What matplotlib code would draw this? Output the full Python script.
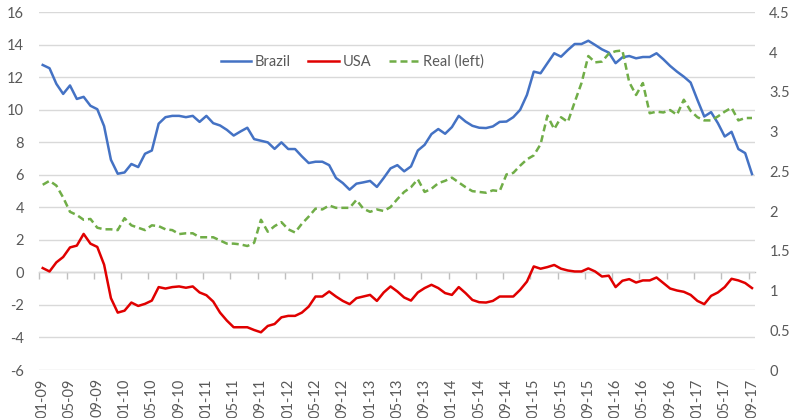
import matplotlib
matplotlib.use("Agg")
import matplotlib.pyplot as plt
import numpy as np

plt.rcParams['font.family'] = ['Lato', 'DejaVu Sans']

# Monthly data, Jan 2009 .. Sep 2017
years = list(range(2009, 2018))
months = [f"{m:02d}-{str(y)[2:]}" for y in years for m in range(1, 13)][:105]

brazil = [12.76, 12.56, 11.6, 10.98, 11.5, 10.67, 10.8, 10.25, 10.04, 9.0, 6.93, 6.07,
          6.15, 6.67, 6.48, 7.3, 7.5, 9.15, 9.55, 9.63, 9.63, 9.55, 9.63, 9.26,
          9.63, 9.18, 9.04, 8.77, 8.42, 8.67, 8.9, 8.2, 8.1, 8.0, 7.6, 8.0,
          7.59, 7.59, 7.14, 6.73, 6.81, 6.81, 6.6, 5.81, 5.5, 5.09, 5.46, 5.54,
          5.63, 5.26, 5.81, 6.4, 6.6, 6.22, 6.52, 7.5, 7.85, 8.51, 8.82, 8.53,
          8.94, 9.63, 9.28, 9.02, 8.9, 8.88, 8.98, 9.26, 9.28, 9.55, 10.0, 10.92,
          12.35, 12.25, 12.87, 13.48, 13.27, 13.68, 14.05, 14.05, 14.25, 13.99, 13.72, 13.52,
          12.87, 13.23, 13.31, 13.17, 13.25, 13.25, 13.48, 13.11, 12.7, 12.35, 12.04, 11.68,
          10.61, 9.59, 9.86, 9.18, 8.36, 8.65, 7.59, 7.34, 6.05]

usa = [0.27, 0.06, 0.62, 0.95, 1.54, 1.65, 2.37, 1.77, 1.57, 0.48, -1.58, -2.47,
       -2.35, -1.85, -2.06, -1.93, -1.73, -0.90, -0.99, -0.90, -0.86, -0.94, -0.86, -1.23,
       -1.40, -1.79, -2.47, -2.96, -3.37, -3.37, -3.37, -3.54, -3.68, -3.29, -3.17, -2.76,
       -2.67, -2.67, -2.47, -2.10, -1.48, -1.48, -1.17, -1.48, -1.75, -1.95, -1.58, -1.48,
       -1.38, -1.75, -1.23, -0.86, -1.17, -1.54, -1.73, -1.23, -0.96, -0.76, -0.96, -1.27,
       -1.38, -0.90, -1.27, -1.69, -1.83, -1.85, -1.75, -1.48, -1.48, -1.48, -1.07, -0.56,
       0.37, 0.23, 0.33, 0.46, 0.23, 0.12, 0.06, 0.06, 0.25, 0.06, -0.25, -0.20,
       -0.90, -0.51, -0.41, -0.62, -0.49, -0.49, -0.31, -0.65, -0.99, -1.11, -1.19, -1.38,
       -1.75, -1.95, -1.44, -1.23, -0.90, -0.39, -0.49, -0.65, -0.96]

real = [2.33, 2.38, 2.32, 2.17, 1.99, 1.95, 1.89, 1.90, 1.79, 1.77, 1.77, 1.76,
        1.91, 1.82, 1.79, 1.76, 1.82, 1.81, 1.77, 1.76, 1.71, 1.72, 1.72, 1.67,
        1.67, 1.67, 1.63, 1.59, 1.59, 1.58, 1.56, 1.60, 1.89, 1.74, 1.81, 1.86,
        1.77, 1.73, 1.84, 1.93, 2.03, 2.02, 2.07, 2.04, 2.04, 2.04, 2.14, 2.03,
        1.99, 2.02, 2.00, 2.05, 2.15, 2.24, 2.30, 2.40, 2.24, 2.28, 2.35, 2.38,
        2.42, 2.36, 2.30, 2.25, 2.24, 2.23, 2.26, 2.25, 2.46, 2.48, 2.57, 2.65,
        2.70, 2.84, 3.20, 3.03, 3.18, 3.12, 3.37, 3.61, 3.95, 3.87, 3.88, 3.98,
        4.01, 4.02, 3.62, 3.46, 3.61, 3.23, 3.25, 3.24, 3.27, 3.21, 3.40, 3.26,
        3.18, 3.14, 3.14, 3.19, 3.25, 3.30, 3.14, 3.17, 3.17]

left_ticks = list(range(-6, 17, 2))
right_ticks = [0, 0.5, 1, 1.5, 2, 2.5, 3, 3.5, 4, 4.5]
right_labels = ['0', '0.5', '1', '1.5', '2', '2.5', '3', '3.5', '4', '4.5']

x = np.arange(len(months))
txt = '#595959'
fs = 10.5

fig = plt.figure(figsize=(7.94, 4.18), dpi=100)
ax = fig.add_axes([0.0495, 0.1148, 0.9019, 0.8558])
ax2 = ax.twinx()

l1, = ax.plot(x, brazil, color='#4472C4', lw=1.8, label='Brazil', zorder=3)
l2, = ax.plot(x, usa, color='#E00000', lw=1.8, label='USA', zorder=3)
l3, = ax2.plot(x, real, color='#70AD47', lw=1.8, ls=(0, (2.8, 1.6)), label='Real (left)')

ax.set_xlim(-0.5, len(months) - 0.5)
ax.set_ylim(-6, 16)
ax2.set_ylim(0, 4.5)

ax.set_yticks(left_ticks)
ax.set_yticklabels([str(v) for v in left_ticks])
ax2.set_yticks(right_ticks)
ax2.set_yticklabels(right_labels)

ax.grid(axis='y', color='#d9d9d9', lw=1)
ax.set_axisbelow(True)

for a in (ax, ax2):
    for s in a.spines.values():
        s.set_visible(False)

ax.tick_params(axis='y', length=0, pad=11, labelcolor=txt, labelsize=fs)
ax2.tick_params(axis='y', length=0, pad=10, labelcolor=txt, labelsize=fs)

ax.set_xticks(x[::4])
ax.set_xticklabels(months[::4], rotation=90)
ax.tick_params(axis='x', length=0, pad=6, labelcolor=txt, labelsize=fs)

# horizontal axis line crossing at 0 with boundary tick marks
sec = ax.secondary_xaxis(6 / 22)
sec.set_xticks(np.arange(-0.5, len(months), 4))
sec.set_xticklabels([])
sec.tick_params(axis='x', direction='out', length=5, color='#bfbfbf', width=1)
sec.spines['bottom'].set_color('#bfbfbf')
sec.spines['bottom'].set_linewidth(1)

ax.legend(handles=[l1, l2, l3], loc='center', bbox_to_anchor=(0.437, 0.861), ncol=3,
          frameon=False, fontsize=fs, labelcolor=txt, handlelength=2.1,
          handletextpad=0.25, columnspacing=1.2)

fig.savefig('out.png', dpi=100)
